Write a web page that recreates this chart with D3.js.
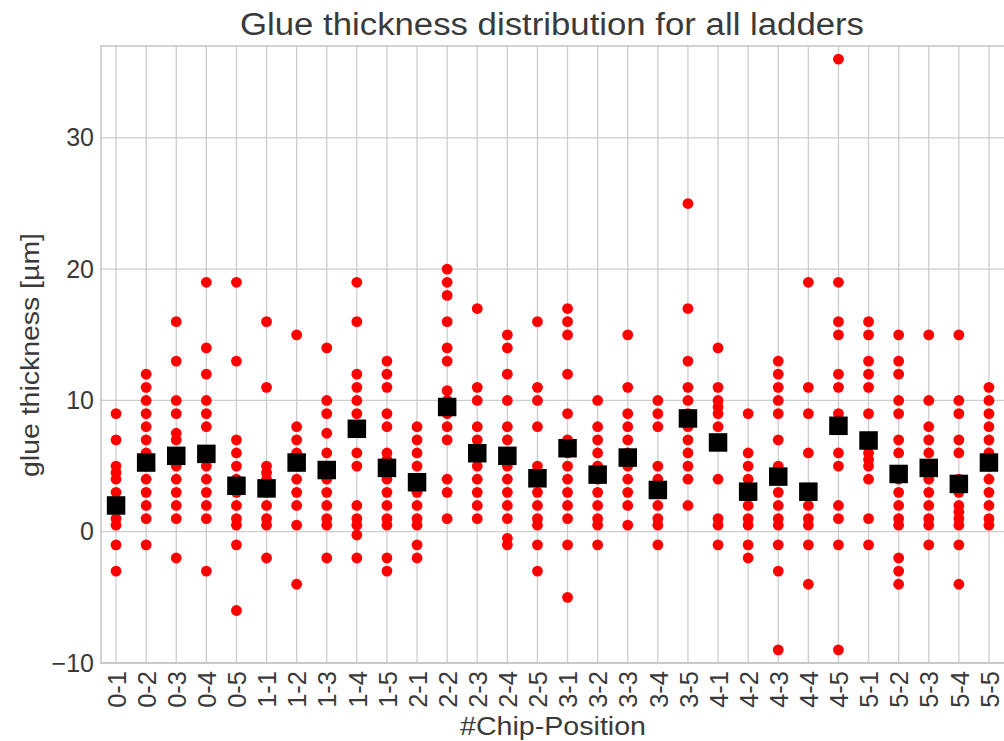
<!DOCTYPE html>
<html>
<head>
<meta charset="utf-8">
<script src="https://cdn.jsdelivr.net/npm/d3@7"></script>
<style>
  html, body { margin: 0; padding: 0; background: #ffffff; }
  svg { display: block; }
  text { font-family: "Liberation Sans", Arial, sans-serif; }
</style>
</head>
<body>
<svg id="chart" width="1004" height="741"></svg>
<script>
// ---------------- data ----------------
const categories = ["0-1","0-2","0-3","0-4","0-5","1-1","1-2","1-3","1-4","1-5",
                    "2-1","2-2","2-3","2-4","2-5","3-1","3-2","3-3","3-4","3-5",
                    "4-1","4-2","4-3","4-4","4-5","5-1","5-2","5-3","5-4","5-5"];

// individual glue thickness measurements (µm) per chip position
const thickness = [
  [9,7,5,4.5,4,3,2,1,0.5,-1,-3],
  [12,11,10,9,8,7,6,5,4,3,2,1,-1],
  [16,13,10,9,7.5,7,6,5,4,3,2,1,-2],
  [19,14,12,10,9,8,6,5,4,3,2,1,-3],
  [19,13,7,6,5,4,3,2,1,0.5,-1,-6],
  [16,11,5,4.5,4,3,2,1,0.5,-2],
  [15,8,7,6,5,4,3,2,0.5,-4],
  [14,10,9,7.5,6,5,4,3,2,1,0.5,-2],
  [19,16,12,11,10,9,8,6,5,2,1,0.5,-0.25,-2],
  [13,12,11,9,8,6,5.5,5,4,3,2,1,0.5,-2,-3],
  [8,7,6,5,4,3,2,1,0.5,-1,-2],
  [20,19,18,16,14,13,10.75,10,9,8,7,4,3,1],
  [17,11,10,8,7,6,5,4,3,2,1],
  [15,14,12,10,8,7,6,5,4,3,2,1,-0.5,-1],
  [16,11,10,8,5,4,3,2,1,0.5,-1,-3],
  [17,16,15,12,9,7,6,5,4,3,2,1,-1,-5],
  [10,8,7,6,5,4,3,2,1,0.5,-1],
  [15,11,9,8,7,6,5,4,3,2,0.5],
  [10,9,8,5,4,3,2,1,0.5,-1],
  [25,17,13,11,10,9,8,7,6,5,4,2],
  [14,11,10,9.5,9,8,7,4,1,0.5,-1],
  [9,6,5,4,3,2,1,0.5,-1,-2],
  [13,12,11,10,9,7,5,4,3,2,1,0.5,-1,-3,-9],
  [19,11,9,6,3,2,1,0.5,-1,-4],
  [36,19,16,15,12,11,9,8,6,5,2,1,-1,-9],
  [16,15,13,12,11,9,7,6,5.5,5,4,1,-1],
  [15,13,12,10,9,7,6,4,3,2,1,0.5,-2,-3,-4],
  [15,10,8,7,6,5,4,3,2,1,0.5,-1],
  [15,10,9,7,6,4,3,2,1.5,1,0.5,-1,-4],
  [11,10,9,8,7,6,5,4,3,2,1,0.5]
];

// mean thickness per chip position (black squares)
const means = [2.0,5.27,5.78,5.93,3.5,3.3,5.27,4.7,7.84,4.86,
               3.77,9.5,5.98,5.78,4.07,6.36,4.35,5.65,3.18,8.63,
               6.8,3.05,4.2,3.05,8.07,6.95,4.4,4.86,3.64,5.27];

const yTicks = [-10, 0, 10, 20, 30];
const yDomain = [-10, 37];

const titleText = "Glue thickness distribution for all ladders";
const xLabel = "#Chip-Position";
const yLabel = "glue thickness [\u00b5m]";

// ---------------- layout ----------------
const svg = d3.select("#chart");
const pL = 101, pR = 1004, pT = 46, pB = 663;

const x = d3.scalePoint().domain(categories).range([pL, pR]).padding(0.5);
const y = d3.scaleLinear().domain(yDomain).range([pB, pT]);

const gridColor = "#cdcdcd";
const textColor = "#3a3a3a";

// grid: vertical at each category
svg.append("g").selectAll("line").data(categories).join("line")
  .attr("x1", d => x(d)).attr("x2", d => x(d))
  .attr("y1", pT).attr("y2", pB)
  .attr("stroke", gridColor).attr("stroke-width", 1.3);

// grid: horizontal
svg.append("g").selectAll("line").data(yTicks).join("line")
  .attr("x1", pL).attr("x2", pR)
  .attr("y1", d => y(d)).attr("y2", d => y(d))
  .attr("stroke", gridColor).attr("stroke-width", 1.3);

// frame (top, left, bottom)
svg.append("path")
  .attr("d", `M${pR},${pT}H${pL}V${pB}H${pR}`)
  .attr("fill", "none").attr("stroke", "#c4c4c4").attr("stroke-width", 1.5);

// y axis labels via d3 axis
const yAxis = d3.axisLeft(y).tickValues(yTicks).tickSize(0).tickPadding(7)
  .tickFormat(d => d < 0 ? "\u2212" + Math.abs(d) : d);
const gy = svg.append("g").attr("transform", `translate(${pL},0)`).call(yAxis);
gy.select(".domain").remove();
gy.selectAll("text").attr("font-size", 25).attr("fill", textColor)
  .attr("font-family", "Liberation Sans, Arial, sans-serif");

// x axis labels (rotated)
const xAxis = d3.axisBottom(x).tickSize(0).tickPadding(0);
const gx = svg.append("g").attr("transform", `translate(0,${pB})`).call(xAxis);
gx.select(".domain").remove();
gx.selectAll("text")
  .attr("font-size", 25.5).attr("fill", textColor)
  .attr("font-family", "Liberation Sans, Arial, sans-serif")
  .attr("transform", "rotate(-90)")
  .attr("text-anchor", "end")
  .attr("x", -8).attr("y", 0).attr("dy", "0.36em");

// points
const pts = [];
thickness.forEach((arr, i) => arr.forEach(v => pts.push({c: categories[i], v})));
svg.append("g").selectAll("circle").data(pts).join("circle")
  .attr("cx", d => x(d.c)).attr("cy", d => y(d.v)).attr("r", 5.4)
  .attr("fill", "#ff0000");

// means
const sq = 18.5;
svg.append("g").selectAll("rect").data(means).join("rect")
  .attr("x", (d, i) => x(categories[i]) - sq / 2)
  .attr("y", d => y(d) - sq / 2)
  .attr("width", sq).attr("height", sq)
  .attr("fill", "#000000");

// title
svg.append("text")
  .attr("x", 552).attr("y", 35)
  .attr("text-anchor", "middle")
  .attr("font-size", 31).attr("fill", textColor)
  .attr("textLength", 624).attr("lengthAdjust", "spacingAndGlyphs")
  .text(titleText);

// x label
svg.append("text")
  .attr("x", 553).attr("y", 735)
  .attr("text-anchor", "middle")
  .attr("font-size", 25.5).attr("fill", textColor)
  .attr("textLength", 186).attr("lengthAdjust", "spacingAndGlyphs")
  .text(xLabel);

// y label
svg.append("text")
  .attr("transform", "translate(39,355) rotate(-90)")
  .attr("text-anchor", "middle")
  .attr("font-size", 25.5).attr("fill", textColor)
  .attr("textLength", 244).attr("lengthAdjust", "spacingAndGlyphs")
  .text(yLabel);
</script>
</body>
</html>
